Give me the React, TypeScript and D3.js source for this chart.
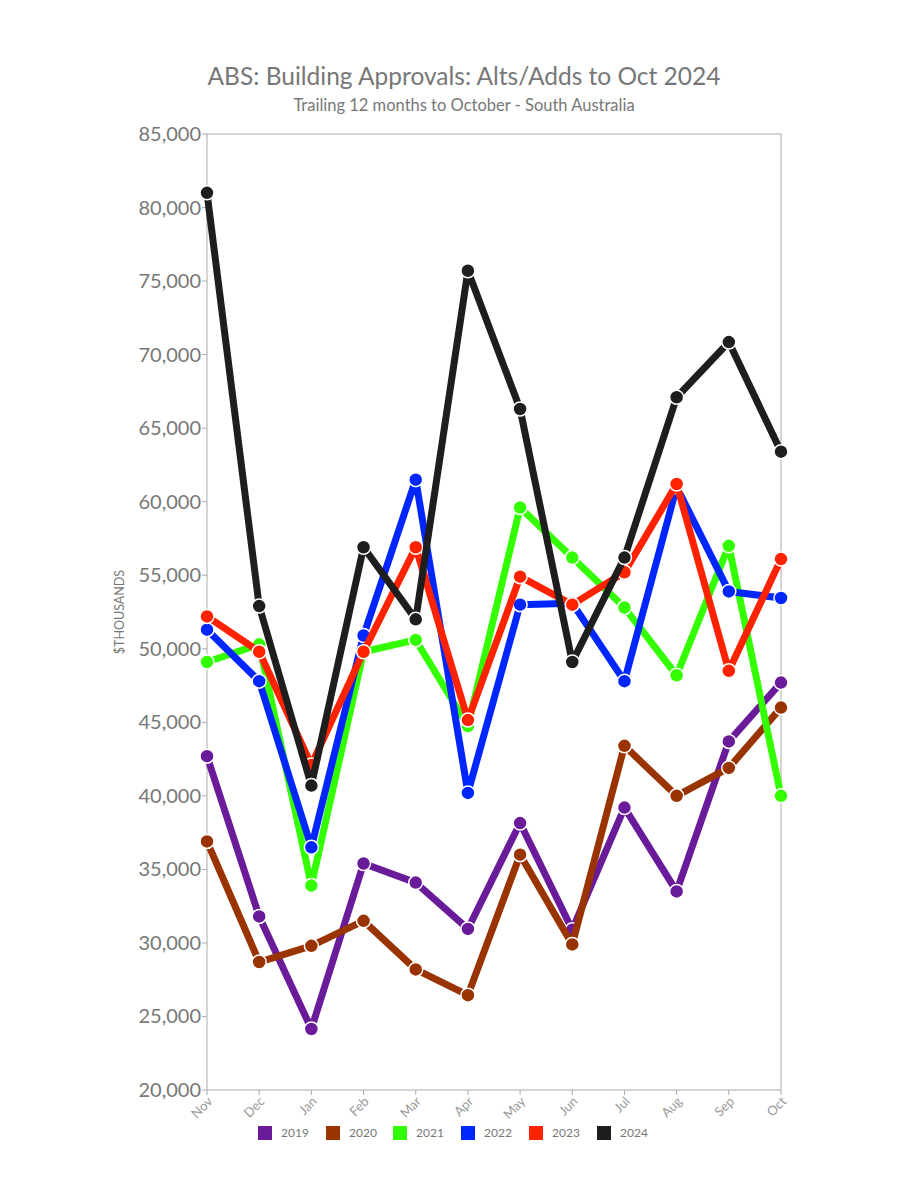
import React from "react";
import * as d3 from "d3";

const months = ["Nov", "Dec", "Jan", "Feb", "Mar", "Apr", "May", "Jun", "Jul", "Aug", "Sep", "Oct"];
const years = ["2019", "2020", "2021", "2022", "2023", "2024"];
const colors = ["#6a1b9a", "#993300", "#33ff00", "#0026ff", "#ff2200", "#1e1e1e"];

const s2019 = [42700, 31800, 24150, 35400, 34100, 30950, 38150, 30900, 39200, 33500, 43700, 47700];
const s2020 = [36900, 28700, 29800, 31500, 28200, 26450, 36000, 29900, 43400, 40000, 41900, 46000];
const s2021 = [49100, 50300, 33900, 49800, 50600, 44750, 59600, 56200, 52800, 48200, 57000, 40000];
const s2022 = [51300, 47800, 36500, 50900, 61500, 40200, 53000, 53100, 47800, 61000, 53900, 53450];
const s2023 = [52200, 49800, 42100, 49800, 56900, 45150, 54900, 53000, 55200, 61200, 48500, 56100];
const s2024 = [81000, 52900, 40700, 56900, 52000, 75700, 66300, 49100, 56200, 67100, 70850, 63400];
const series = [s2019, s2020, s2021, s2022, s2023, s2024];

const yTicks = [20000, 25000, 30000, 35000, 40000, 45000, 50000, 55000, 60000, 65000, 70000, 75000, 80000, 85000];

const W = 900, H = 1200;
const left = 207, right = 781, top = 134, bottom = 1090;
const font = "Lato, 'Source Sans Pro', 'Open Sans', sans-serif";

export default function App() {
  const x = d3.scalePoint<string>().domain(months).range([left, right]);
  const y = d3.scaleLinear().domain([20000, 85000]).range([bottom, top]);
  const line = d3.line<number>().x((_, i) => x(months[i]) as number).y((d) => y(d));
  const fmt = d3.format(",");
  const legendX = [265, 333, 400, 468, 536, 604];

  return (
    <svg width={W} height={H} style={{ position: "absolute", left: 0, top: 0, background: "#fff" }} fontFamily={font}>
      <rect x={0} y={0} width={W} height={H} fill="#fff" />
      <text x={464} y={85} textAnchor="middle" fontSize={24.5} fill="#777">ABS: Building Approvals: Alts/Adds to Oct 2024</text>
      <text x={464} y={111} textAnchor="middle" fontSize={16.5} fill="#777">Trailing 12 months to October - South Australia</text>

      <rect x={left} y={top} width={right - left} height={bottom - top} fill="none" stroke="#aaa" strokeWidth={1} />
      {yTicks.map((t) => (
        <g key={t}>
          <line x1={left - 5} x2={left} y1={y(t)} y2={y(t)} stroke="#aaa" />
          <text x={left - 6} y={y(t)} dy="0.35em" textAnchor="end" fontSize={20} fill="#777">{fmt(t)}</text>
        </g>
      ))}
      <text transform={`translate(124,${(top + bottom) / 2}) rotate(-90)`} textAnchor="middle" fontSize={12.5} fill="#777">$THOUSANDS</text>
      {months.map((m) => (
        <g key={m}>
          <line x1={x(m)} x2={x(m)} y1={bottom} y2={bottom + 5} stroke="#aaa" />
          <text transform={`translate(${(x(m) as number) + 3},${bottom + 9}) rotate(-45)`} textAnchor="end" dy="0.35em" fontSize={13} fill="#999">{m}</text>
        </g>
      ))}

      {series.map((s, si) => (
        <g key={years[si]}>
          <path d={line(s) || ""} fill="none" stroke={colors[si]} strokeWidth={7} strokeLinejoin="round" />
          {s.map((v, i) => (
            <circle key={i} cx={x(months[i])} cy={y(v)} r={7} fill={colors[si]} stroke="#fff" strokeWidth={1.5} />
          ))}
        </g>
      ))}

      {years.map((yr, i) => (
        <g key={yr}>
          <rect x={legendX[i] - 7} y={1126} width={14} height={14} fill={colors[i]} />
          <text x={legendX[i] + 16} y={1133} dy="0.35em" fontSize={12} fill="#777">{yr}</text>
        </g>
      ))}
    </svg>
  );
}
